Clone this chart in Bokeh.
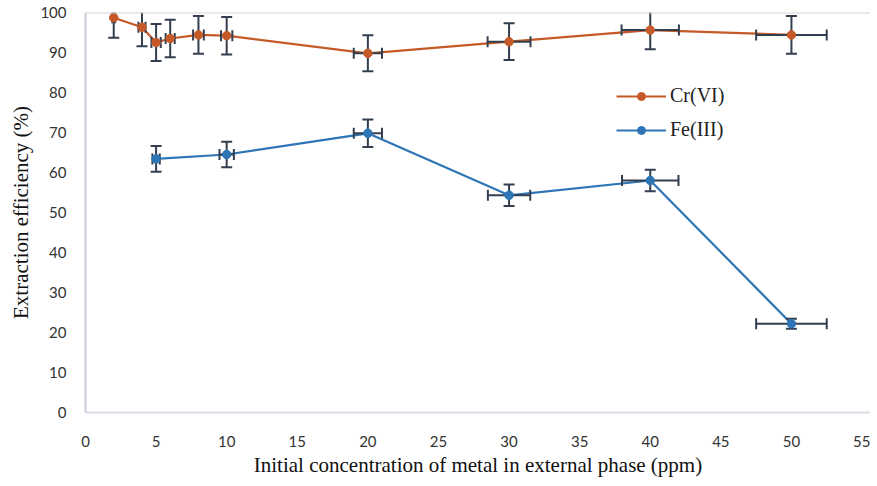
from bokeh.plotting import figure
from bokeh.models import Range1d, Span, Legend, LegendItem, FixedTicker, Spacer
from bokeh.layouts import row
from bokeh.embed import file_html
from bokeh.resources import INLINE
import numpy as np

# ---- data ----
cr_x = [2, 4, 5, 6, 8, 10, 20, 30, 40, 50]
cr_y = [98.7, 96.3, 92.5, 93.5, 94.4, 94.2, 89.8, 92.7, 95.6, 94.4]
cr_yerr = [5.0, 4.75, 4.6, 4.7, 4.7, 4.7, 4.5, 4.6, 4.8, 4.7]
cr_xerr = [0.1, 0.25, 0.33, 0.32, 0.38, 0.4, 1.0, 1.52, 2.03, 2.5]

fe_x = [5, 10, 20, 30, 40, 50]
fe_y = [63.4, 64.5, 69.8, 54.3, 58.0, 22.2]
fe_yerr = [3.2, 3.2, 3.45, 2.7, 2.7, 1.25]
fe_xerr = [0.26, 0.51, 1.0, 1.5, 2.0, 2.5]

x_ticks = [0, 5, 10, 15, 20, 25, 30, 35, 40, 45, 50, 55]
y_ticks = [0, 10, 20, 30, 40, 50, 60, 70, 80, 90, 100]

CR_COLOR = "#C55A28"
FE_COLOR = "#2E75B6"
ERR_COLOR = "#333F50"

p = figure(frame_width=785, frame_height=400, output_backend="svg", toolbar_location=None,
           x_range=Range1d(0, 55.6), y_range=Range1d(0, 100),
           min_border_left=10, min_border_right=0, min_border_top=12, min_border_bottom=10)
p.outline_line_color = None
p.xgrid.visible = False
p.ygrid.visible = False
p.background_fill_color = "white"

p.add_layout(Span(location=100, dimension="width", line_color="#D4D4D4", line_width=2))

def add_series(xs, ys, xerr, yerr, color):
    xs = np.array(xs, dtype=float); ys = np.array(ys, dtype=float)
    xerr = np.array(xerr, dtype=float); yerr = np.array(yerr, dtype=float)
    line = p.line(xs, ys, line_color=color, line_width=2.2)
    # vertical error bars
    p.segment(x0=xs, y0=ys - yerr, x1=xs, y1=ys + yerr, line_color=ERR_COLOR, line_width=2)
    p.scatter(x=np.concatenate([xs, xs]), y=np.concatenate([ys - yerr, ys + yerr]),
              marker="dash", size=11, line_color=ERR_COLOR, line_width=2)
    # horizontal error bars
    p.segment(x0=xs - xerr, y0=ys, x1=xs + xerr, y1=ys, line_color=ERR_COLOR, line_width=2)
    p.scatter(x=np.concatenate([xs - xerr, xs + xerr]), y=np.concatenate([ys, ys]),
              marker="dash", angle=np.pi / 2, size=11, line_color=ERR_COLOR, line_width=2)
    p.scatter(xs, ys, marker="circle", size=8.5, fill_color=color, line_color=color)
    # larger marker used only for the legend swatch
    big = p.scatter(xs[:1], ys[:1], marker="circle", size=15, fill_color=color,
                    line_color=color, visible=False)
    return line, big

cr_line, cr_big = add_series(cr_x, cr_y, cr_xerr, cr_yerr, CR_COLOR)
fe_line, fe_big = add_series(fe_x, fe_y, fe_xerr, fe_yerr, FE_COLOR)

legend = Legend(items=[LegendItem(label="Cr(VI)", renderers=[cr_line, cr_big]),
                       LegendItem(label="Fe(III)", renderers=[fe_line, fe_big])],
                location=(531, 271), glyph_width=50, glyph_height=20, label_height=20,
                spacing=11, padding=0, margin=0, label_standoff=4,
                border_line_color=None, background_fill_alpha=0,
                inactive_fill_alpha=0,
                label_text_font="Liberation Serif", label_text_font_size="20px",
                label_text_color="#222222")
p.add_layout(legend)

# axes
p.xaxis.ticker = FixedTicker(ticks=x_ticks)
p.yaxis.ticker = FixedTicker(ticks=y_ticks)
for ax in (p.xaxis[0], p.yaxis[0]):
    ax.major_tick_line_color = None
    ax.minor_tick_line_color = None
    ax.major_label_text_font = "Lato"
    ax.major_label_text_font_size = "15px"
    ax.major_label_text_color = "#333333"
    ax.axis_label_text_font = "Liberation Serif"
    ax.axis_label_text_font_size = "21px"
    ax.axis_label_text_font_style = "normal"
    ax.axis_label_text_color = "#111111"
    ax.axis_line_width = 2

p.xaxis.axis_line_color = "#D9DDE5"
p.yaxis.axis_line_color = "#C8CFDB"
p.xaxis.major_label_standoff = 17
p.yaxis.major_label_standoff = 13
p.xaxis.axis_label = "Initial concentration of metal in external phase (ppm)"
p.yaxis.axis_label = "Extraction efficiency (%)"
p.xaxis.axis_label_standoff = 3
p.yaxis.axis_label_standoff = 4

layout = row(Spacer(width=6, height=10), p)
open("out.html", "w").write(file_html(layout, INLINE))
